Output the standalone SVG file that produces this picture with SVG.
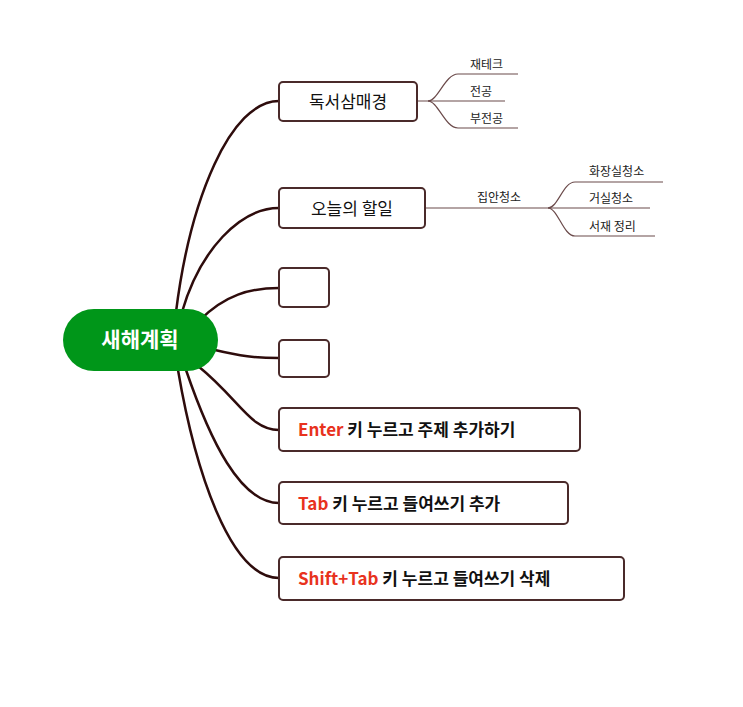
<svg xmlns="http://www.w3.org/2000/svg" width="743" height="707" viewBox="0 0 743 707">
<style>
.c{fill:none;stroke:#2e0c0c;stroke-width:2.5}
.s{fill:none;stroke:#6b4a4a;stroke-width:1.2}
.b{fill:#fff;stroke:#4a2a2a;stroke-width:2}
text{font-family:"Noto Sans CJK KR","Noto Sans",sans-serif}
.t{font-size:17px;fill:#111}
.tb{font-size:17px;fill:#111;font-weight:bold}
.r{fill:#e8321e}
.m{font-size:12px;fill:#222}
</style>
<rect width="743" height="707" fill="#fff"/>
<g id="connectors">
<path class="c" d="M176,312 C190,200 230,101 279,101"/>
<path class="c" d="M182,312 C200,250 240,208 279,208"/>
<path class="c" d="M200,320 C225,295 250,288 279,288"/>
<path class="c" d="M215,350 C240,356 255,358 279,358"/>
<path class="c" d="M198,366 C240,400 250,430 279,430"/>
<path class="c" d="M186,370 C210,440 240,503 279,503"/>
<path class="c" d="M178,370 C195,470 230,578 279,578"/>
<path class="s" d="M417,101 H428 C438,101 445,74 458,74 H518"/>
<path class="s" d="M428,101 H505"/>
<path class="s" d="M428,101 C438,101 445,128 458,128 H518"/>
<path class="s" d="M425,208 H548 C558,208 563,182 575,182 H663"/>
<path class="s" d="M548,208 H650"/>
<path class="s" d="M548,208 C558,208 563,236 575,236 H655"/>
</g>
<g id="root"><rect x="63" y="309" width="155" height="62" rx="31" fill="#009619"/><text x="140" y="347" text-anchor="middle" font-size="21" font-weight="bold" fill="#fff">새해계획</text></g>
<g id="n1"><rect class="b" x="279" y="82" width="138" height="39" rx="4"/><text class="t" x="348" y="108" text-anchor="middle">독서삼매경</text></g>
<g id="n1a"><text class="m" x="470" y="69">재테크</text></g>
<g id="n1b"><text class="m" x="470" y="96">전공</text></g>
<g id="n1c"><text class="m" x="470" y="123">부전공</text></g>
<g id="n2"><rect class="b" x="279" y="188" width="146" height="40" rx="4"/><text class="t" x="352" y="215" text-anchor="middle">오늘의 할일</text></g>
<g id="n2a"><text class="m" x="477" y="202">집안청소</text></g>
<g id="n2b"><text class="m" x="589" y="176">화장실청소</text></g>
<g id="n2c"><text class="m" x="589" y="203">거실청소</text></g>
<g id="n2d"><text class="m" x="589" y="231">서재 정리</text></g>
<g id="n3"><rect class="b" x="279" y="268" width="50" height="39" rx="4"/></g>
<g id="n4"><rect class="b" x="279" y="340" width="50" height="37" rx="4"/></g>
<g id="n5"><rect class="b" x="279" y="408" width="301" height="43" rx="4"/><text class="tb" x="298" y="436"><tspan class="r">Enter</tspan> 키 누르고 주제 추가하기</text></g>
<g id="n6"><rect class="b" x="279" y="482" width="289" height="42" rx="4"/><text class="tb" x="298" y="510"><tspan class="r">Tab</tspan> 키 누르고 들여쓰기 추가</text></g>
<g id="n7"><rect class="b" x="279" y="557" width="345" height="43" rx="4"/><text class="tb" x="298" y="585"><tspan class="r">Shift+Tab</tspan> 키 누르고 들여쓰기 삭제</text></g>
</svg>
